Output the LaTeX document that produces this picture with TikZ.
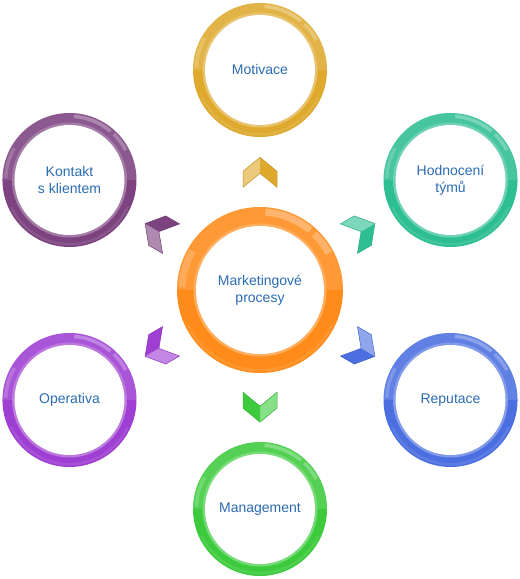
\documentclass[tikz,border=0pt]{standalone}
\usepackage{fontspec}
\setmainfont{Liberation Sans}
\usetikzlibrary{calc,backgrounds}
\definecolor{mpText}{HTML}{2B6CB3}
\definecolor{mpOrange}{HTML}{FF8C1A}
\definecolor{mpGold}{HTML}{DFA92E}
\definecolor{mpTeal}{HTML}{2DBE92}
\definecolor{mpBlue}{HTML}{4B6FE0}
\definecolor{mpGreen}{HTML}{3DCB3D}
\definecolor{mpPurple}{HTML}{9E3ED2}
\definecolor{mpPlum}{HTML}{7C4380}

% glossy ring behind a label node: node, outer radius, inner radius, colour
\newcommand\glassring[4]{%
  \pgfmathsetmacro\rgOut{#2-1.5}%
  \pgfmathsetmacro\rgMid{(#2+#3)/2+1}%
  \pgfmathsetmacro\rgLo{#2-4}%
  \pgfmathsetmacro\rgIn{#3+2.5}%
  \begin{scope}[shift={(#1)}]
    \fill[#4] (0,0) circle (#2);
    \fill[white,opacity=.12] (-#2,0) arc[start angle=180,end angle=0,radius=#2] -- cycle;
    \fill[white,opacity=.28] (50:\rgOut) arc[start angle=50,end angle=86,radius=\rgOut]
      -- (86:\rgMid) arc[start angle=86,end angle=50,radius=\rgMid] -- cycle;
    \fill[white,opacity=.25] (28:\rgOut) arc[start angle=28,end angle=46,radius=\rgOut]
      -- (46:\rgMid) arc[start angle=46,end angle=28,radius=\rgMid] -- cycle;
    \fill[white,opacity=.18] (150:\rgOut) arc[start angle=150,end angle=178,radius=\rgOut]
      -- (178:\rgMid) arc[start angle=178,end angle=150,radius=\rgMid] -- cycle;
    \fill[white,opacity=.1] (205:\rgOut) arc[start angle=205,end angle=335,radius=\rgOut]
      -- (335:\rgLo) arc[start angle=335,end angle=205,radius=\rgLo] -- cycle;
    \fill[#4!70!white] (0,0) circle (\rgIn);
    \fill[white] (0,0) circle (#3);
  \end{scope}}

\begin{document}
\begin{tikzpicture}[x=1pt,y=1pt,
  lbl/.style={font=\fontsize{14}{17}\selectfont,text=mpText,align=center,inner sep=0pt},
  pics/chevron/.style={code={
    \fill[#1!62!white] (0,15)--(0,-1)--(-17,-15)--(-17,1)--cycle;
    \fill[#1] (0,15)--(17,1)--(17,-15)--(0,-1)--cycle;
    \draw[#1!88!black,line width=.5pt] (0,15)--(17,1)--(17,-15)--(0,-1)--(-17,-15)--(-17,1)--cycle;
  }}
]
\useasboundingbox (0,0) rectangle (520,579);
\node[lbl] (mkt) at (260,289) {Marketingové\\procesy};
\node[lbl] (mot) at ($(mkt)+(90:220)$) {Motivace};
\node[lbl] (hod) at ($(mkt)+(30:220)$) {Hodnocení\\týmů};
\node[lbl] (rep) at ($(mkt)+(-30:220)$) {Reputace};
\node[lbl] (man) at ($(mkt)+(-90:219)$) {Management};
\node[lbl] (ope) at ($(mkt)+(210:220)$) {Operativa};
\node[lbl] (kon) at ($(mkt)+(150:220)$) {Kontakt\\s klientem};

\begin{scope}[on background layer]
  \glassring{mkt}{83}{64}{mpOrange}
  \glassring{mot}{67}{55}{mpGold}
  \glassring{hod}{67}{55}{mpTeal}
  \glassring{rep}{67}{55}{mpBlue}
  \glassring{man}{67}{55}{mpGreen}
  \glassring{ope}{67}{55}{mpPurple}
  \glassring{kon}{67}{55}{mpPlum}
\end{scope}

\pic[rotate=0] at ($(mkt)!.535!(mot)$) {chevron=mpGold};
\pic[rotate=-60] at ($(mkt)!.535!(hod)$) {chevron=mpTeal};
\pic[rotate=-120] at ($(mkt)!.535!(rep)$) {chevron=mpBlue};
\pic[rotate=180] at ($(mkt)!.535!(man)$) {chevron=mpGreen};
\pic[rotate=120] at ($(mkt)!.535!(ope)$) {chevron=mpPurple};
\pic[rotate=60] at ($(mkt)!.535!(kon)$) {chevron=mpPlum};
\end{tikzpicture}
\end{document}
